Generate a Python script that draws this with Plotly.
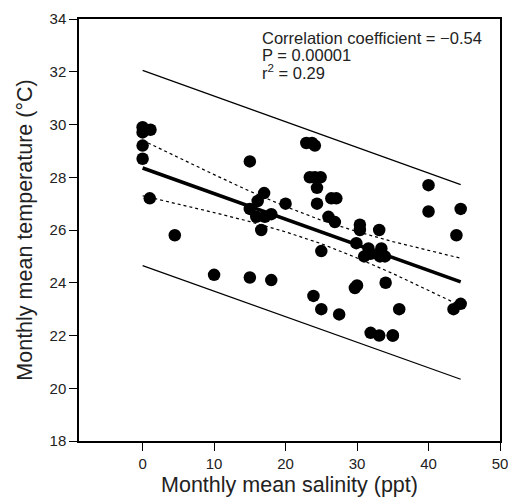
import plotly.graph_objects as go

# Scatter data: salinity (ppt) vs temperature (°C)
salinity = [0, 0, 1.1, 0, 0, 1.0, 4.5, 10, 15, 15, 18, 17, 16.1, 15, 15.9, 17.1, 18, 16.6, 20,
            22.9, 23.7, 24.1, 23.4, 24.1, 24.9, 24.4, 24.4, 26.4, 27.1, 26.0, 26.9, 25.0, 23.9,
            25.0, 27.5, 30.4, 30.4, 29.9, 31.6, 31.9, 31.0, 33.1, 33.4, 33.2, 33.9, 29.7, 30.0,
            34.0, 31.9, 33.1, 35.0, 35.0, 35.9, 40.0, 40.0, 43.5, 43.9, 44.5, 44.5]
temperature = [29.9, 29.7, 29.8, 29.2, 28.7, 27.2, 25.8, 24.3, 28.6, 24.2, 24.1, 27.4, 27.1, 26.8,
               26.5, 26.5, 26.6, 26.0, 27.0, 29.3, 29.3, 29.2, 28.0, 28.0, 28.0, 27.6, 27.0, 27.2,
               27.2, 26.5, 26.3, 25.2, 23.5, 23.0, 22.8, 26.2, 26.0, 25.5, 25.3, 25.1, 25.0, 26.0,
               25.3, 25.0, 25.0, 23.8, 23.9, 24.0, 22.1, 22.0, 22.0, 22.0, 23.0, 26.7, 27.7, 23.0,
               25.8, 23.2, 26.8, 24.8]

# Regression line and prediction band (end points)
fit_x = [0, 44.5]
fit_y = [28.35, 24.03]
pred_upper = [32.05, 27.72]
pred_lower = [24.65, 20.34]

# Confidence band (read at several salinities)
ci_x = [0, 5, 10, 15, 20, 25, 30, 35, 40, 44.5]
ci_upper = [29.40, 28.74, 28.10, 27.47, 26.89, 26.37, 25.94, 25.56, 25.22, 24.93]
ci_lower = [27.30, 26.99, 26.66, 26.32, 25.93, 25.48, 24.94, 24.35, 23.72, 23.13]

x_ticks = [0, 10, 20, 30, 40, 50]
y_ticks = [18, 20, 22, 24, 26, 28, 30, 32, 34]

stats_lines = ["Correlation coefficient = \u22120.54", "P = 0.00001", "r<sup>2</sup> = 0.29"]
stats_y = [33.27, 32.63, 31.99]

FONT = "Liberation Sans, Arial, Helvetica, sans-serif"

fig = go.Figure()
fig.add_trace(go.Scatter(x=fit_x, y=pred_upper, mode="lines",
                         line=dict(color="black", width=1.2), hoverinfo="skip"))
fig.add_trace(go.Scatter(x=fit_x, y=pred_lower, mode="lines",
                         line=dict(color="black", width=1.2), hoverinfo="skip"))
fig.add_trace(go.Scatter(x=ci_x, y=ci_upper, mode="lines",
                         line=dict(color="black", width=1.2, dash="dot"), hoverinfo="skip"))
fig.add_trace(go.Scatter(x=ci_x, y=ci_lower, mode="lines",
                         line=dict(color="black", width=1.2, dash="dot"), hoverinfo="skip"))
fig.add_trace(go.Scatter(x=salinity, y=temperature, mode="markers",
                         marker=dict(color="black", size=12.5, line=dict(width=0))))
fig.add_trace(go.Scatter(x=fit_x, y=fit_y, mode="lines",
                         line=dict(color="black", width=3.5), hoverinfo="skip"))

for txt, yy in zip(stats_lines, stats_y):
    fig.add_annotation(x=16.4, y=yy, xref="x", yref="y", xanchor="left", yanchor="middle",
                       align="left", showarrow=False, text=txt,
                       font=dict(family=FONT, size=16.5, color="#222"))

fig.update_layout(
    width=508, height=500,
    margin=dict(l=79, r=8, t=19, b=59, autoexpand=False),
    paper_bgcolor="white", plot_bgcolor="white",
    showlegend=False,
    font=dict(family=FONT, size=15, color="#222"),
    xaxis=dict(range=[-8.9, 50], tickvals=x_ticks, ticks="outside", ticklen=8,
               tickcolor="black", tickwidth=1.2, showline=True, linecolor="black",
               linewidth=1.5, mirror=True, showgrid=False, zeroline=False,
               ticklabeloverflow="allow",
               title=dict(text="Monthly mean salinity (ppt)", font=dict(size=21.5), standoff=6),
               tickfont=dict(size=15)),
    yaxis=dict(range=[18, 34], tickvals=y_ticks, ticks="outside", ticklen=8,
               tickcolor="black", tickwidth=1.2, showline=True, linecolor="black",
               linewidth=1.5, mirror=True, showgrid=False, zeroline=False,
               ticklabeloverflow="allow",
               title=dict(text="Monthly mean temperature (\u00b0C)", font=dict(size=21.5), standoff=11),
               tickfont=dict(size=15)),
)

fig.write_html("out.html", config={"displayModeBar": False},
               post_script="document.body.style.margin='0';document.body.style.overflow='hidden';")
